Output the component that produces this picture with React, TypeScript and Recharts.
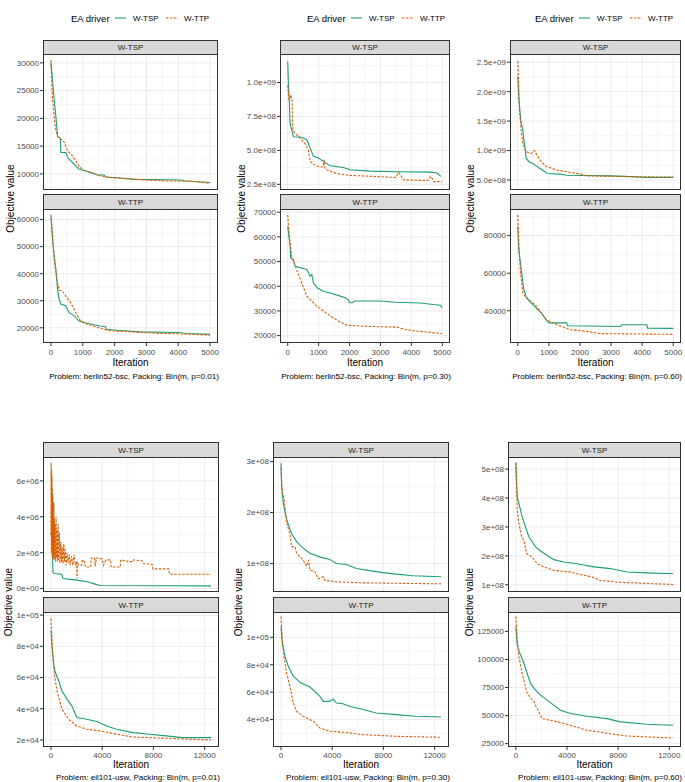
import React from 'react';
import { LineChart, Line, XAxis, YAxis, CartesianGrid } from 'recharts';

type Pt = [number, number];

const GREEN = '#1B9E77';
const ORANGE = '#D95F02';
const FONT = '"Liberation Sans", Arial, Helvetica, sans-serif';

// x axis breaks
const shortXTicks = [0, 1000, 2000, 3000, 4000, 5000];
const shortXMinor = [500, 1500, 2500, 3500, 4500];
const longXTicks = [0, 4000, 8000, 12000];
const longXMinor = [2000, 6000, 10000];

const driverNames = ['W-TSP', 'W-TTP'];

// ---- berlin52-bsc, p=0.01 ----
const b01TspTicks = [10000, 15000, 20000, 25000, 30000];
const b01TspLabels = ['10000', '15000', '20000', '25000', '30000'];
const b01TspMinor = [7500, 12500, 17500, 22500, 27500];
const b01TspGreen: Pt[] = [[0, 30000], [104, 23200], [157, 20200], [209, 16700], [292, 16500], [313, 13860], [470, 13860], [522, 12950], [626, 12350], [730, 11740], [887, 10830], [1096, 10530], [1252, 10230], [1461, 9800], [1670, 9800], [1722, 9440], [2087, 9320], [2610, 9020], [4070, 8900], [4230, 8720], [5000, 8450]];
const b01TspOrange: Pt[] = [[0, 30500], [52, 23200], [136, 18400], [209, 16700], [313, 16300], [417, 15700], [522, 14160], [678, 13250], [783, 12350], [887, 11300], [1044, 10650], [1357, 10050], [1566, 9620], [1879, 9320], [2400, 9140], [3027, 8900], [3653, 8720], [4280, 8720], [4697, 8530], [5000, 8300]];

const b01TtpTicks = [20000, 30000, 40000, 50000, 60000];
const b01TtpLabels = ['20000', '30000', '40000', '50000', '60000'];
const b01TtpMinor = [15000, 25000, 35000, 45000, 55000];
const b01TtpGreen: Pt[] = [[0, 61000], [52, 52600], [103, 46500], [155, 41600], [206, 34300], [258, 30600], [309, 28800], [464, 28200], [567, 25700], [722, 24500], [876, 22600], [1031, 22000], [1237, 21400], [1546, 20700], [1700, 20500], [1753, 19500], [2062, 19100], [2783, 18500], [4020, 18300], [4227, 17900], [5000, 17600]];
const b01TtpOrange: Pt[] = [[0, 61800], [52, 53800], [103, 45200], [186, 37900], [258, 33900], [361, 33600], [464, 31800], [619, 29300], [773, 25700], [928, 22600], [1134, 21400], [1443, 20200], [1856, 18900], [2577, 18500], [3299, 18000], [4227, 17700], [5000, 17300]];

// ---- berlin52-bsc, p=0.30 ----
const b30TspTicks = [2.5e8, 5e8, 7.5e8, 1e9];
const b30TspLabels = ['2.5e+08', '5.0e+08', '7.5e+08', '1.0e+09'];
const b30TspMinor = [3.75e8, 6.25e8, 8.75e8, 1.125e9];
const b30TspGreen: Pt[] = [[0, 1.155e9], [22, 9.95e8], [54, 8.5e8], [76, 7.0e8], [130, 6.5e8], [184, 6.0e8], [400, 5.98e8], [616, 5.8e8], [724, 5.17e8], [832, 4.56e8], [994, 4.43e8], [1156, 4.19e8], [1371, 3.87e8], [1803, 3.74e8], [2019, 3.57e8], [2667, 3.47e8], [3531, 3.42e8], [4611, 3.4e8], [4827, 3.33e8], [4957, 3.08e8]];
const b30TspOrange: Pt[] = [[0, 9.8e8], [22, 9.15e8], [54, 8.6e8], [97, 9.1e8], [140, 8.7e8], [162, 6.5e8], [238, 6.25e8], [400, 5.9e8], [562, 5.5e8], [670, 5.0e8], [724, 4.2e8], [832, 3.95e8], [1048, 3.77e8], [1150, 3.8e8], [1177, 4.3e8], [1200, 3.7e8], [1263, 3.57e8], [1587, 3.28e8], [2019, 3.16e8], [2775, 3.08e8], [3500, 3.0e8], [3585, 3.37e8], [3650, 3.2e8], [3747, 2.83e8], [4395, 2.78e8], [4560, 2.8e8], [4611, 3.08e8], [4680, 2.9e8], [4719, 2.7e8], [4989, 2.7e8]];

const b30TtpTicks = [20000, 30000, 40000, 50000, 60000, 70000];
const b30TtpLabels = ['20000', '30000', '40000', '50000', '60000', '70000'];
const b30TtpMinor = [25000, 35000, 45000, 55000, 65000];
const b30TtpGreen: Pt[] = [[0, 64300], [32, 60900], [76, 56200], [97, 51500], [184, 50800], [238, 48100], [616, 46800], [724, 44100], [778, 44700], [832, 41300], [961, 39300], [1156, 38000], [1371, 37300], [1695, 36000], [1857, 35300], [1960, 34500], [2000, 33300], [2100, 33300], [2150, 34000], [3000, 34000], [3500, 33500], [4300, 33200], [4700, 32600], [4950, 32300], [4990, 31300]];
const b30TtpOrange: Pt[] = [[0, 68900], [54, 60100], [130, 52000], [292, 46600], [454, 41300], [616, 36000], [940, 31900], [1371, 28000], [1700, 25500], [1911, 24200], [2451, 23800], [3000, 23600], [3531, 23400], [3800, 22500], [4071, 22000], [4611, 21300], [4989, 20800]];

// ---- berlin52-bsc, p=0.60 ----
const b60TspTicks = [5e8, 1e9, 1.5e9, 2e9, 2.5e9];
const b60TspLabels = ['5.0e+08', '1.0e+09', '1.5e+09', '2.0e+09', '2.5e+09'];
const b60TspMinor = [7.5e8, 1.25e9, 1.75e9, 2.25e9];
const b60TspGreen: Pt[] = [[0, 2.26e9], [33, 1.92e9], [65, 1.69e9], [108, 1.47e9], [163, 1.35e9], [195, 1.18e9], [228, 1.07e9], [271, 8.7e8], [358, 8.1e8], [488, 7.8e8], [597, 7.4e8], [705, 7.0e8], [813, 6.6e8], [944, 6.1e8], [1356, 6.0e8], [1573, 5.8e8], [2983, 5.7e8], [4176, 5.45e8], [5000, 5.45e8]];
const b60TspOrange: Pt[] = [[0, 2.52e9], [33, 2.03e9], [54, 1.69e9], [108, 1.35e9], [163, 1.12e9], [271, 9.8e8], [434, 9.5e8], [542, 1.0e9], [618, 9.2e8], [759, 8.1e8], [922, 7.3e8], [1247, 6.7e8], [1573, 6.4e8], [2007, 6.0e8], [2223, 5.7e8], [3525, 5.6e8], [4610, 5.5e8], [5000, 5.5e8]];

const b60TtpTicks = [40000, 60000, 80000];
const b60TtpLabels = ['40000', '60000', '80000'];
const b60TtpMinor = [30000, 50000, 70000, 90000];
const b60TtpGreen: Pt[] = [[0, 84800], [33, 72400], [87, 65300], [141, 58200], [195, 51200], [271, 47600], [380, 45000], [542, 42300], [651, 40500], [759, 38800], [922, 35000], [1000, 33500], [1573, 33500], [1600, 32000], [3300, 31600], [3350, 32500], [4150, 32500], [4180, 30700], [5000, 30600]];
const b60TtpOrange: Pt[] = [[0, 91000], [33, 75900], [87, 60000], [163, 49400], [271, 46700], [434, 45000], [597, 42300], [759, 38800], [922, 35200], [1247, 32600], [1681, 29900], [2223, 29000], [2657, 27800], [5000, 27400]];

// ---- eil101-usw, p=0.01 ----
const e01TspTicks = [0, 2e6, 4e6, 6e6];
const e01TspLabels = ['0e+00', '2e+06', '4e+06', '6e+06'];
const e01TspMinor = [1e6, 3e6, 5e6, 7e6];
const e01TspGreen: Pt[] = [[0, 3.1e6], [78, 2.7e6], [155, 0.93e6], [207, 0.84e6], [853, 0.8e6], [931, 0.56e6], [2017, 0.47e6], [2922, 0.37e6], [3569, 0.22e6], [3827, 0.17e6], [12500, 0.15e6]];
const e01TspOrange: Pt[] = [[0, 3.0e6], [15, 7.0e6], [30, 2.0e6], [45, 6.6e6], [60, 2.5e6], [75, 6.3e6], [90, 1.8e6], [105, 5.6e6], [120, 2.2e6], [140, 5.2e6], [160, 1.6e6], [180, 4.3e6], [200, 2.0e6], [225, 4.8e6], [250, 1.7e6], [275, 3.9e6], [300, 1.6e6], [330, 3.6e6], [360, 1.5e6], [400, 4.0e6], [440, 1.7e6], [480, 3.3e6], [520, 1.5e6], [560, 3.6e6], [600, 1.6e6], [650, 3.1e6], [700, 1.4e6], [760, 2.6e6], [820, 1.5e6], [880, 2.3e6], [940, 1.4e6], [1000, 2.5e6], [1060, 1.5e6], [1120, 2.2e6], [1180, 1.3e6], [1250, 2.0e6], [1330, 1.4e6], [1420, 1.9e6], [1500, 1.3e6], [1600, 1.8e6], [1700, 1.3e6], [1800, 1.9e6], [1900, 1.3e6], [2000, 1.5e6], [2040, 0.55e6], [2060, 1.5e6], [2150, 1.3e6], [2400, 1.3e6], [2450, 1.6e6], [2600, 1.5e6], [2700, 1.2e6], [3100, 1.2e6], [3150, 1.7e6], [3400, 1.7e6], [3450, 1.25e6], [3550, 1.7e6], [4000, 1.65e6], [4100, 1.3e6], [4300, 1.6e6], [4650, 1.6e6], [4700, 1.2e6], [5400, 1.2e6], [5450, 1.6e6], [5900, 1.55e6], [6000, 1.5e6], [6400, 1.5e6], [6450, 1.6e6], [7100, 1.55e6], [7200, 1.4e6], [7900, 1.35e6], [7950, 1.1e6], [9200, 1.1e6], [9260, 0.8e6], [12500, 0.8e6]];

const e01TtpTicks = [20000, 40000, 60000, 80000, 100000];
const e01TtpLabels = ['2e+04', '4e+04', '6e+04', '8e+04', '1e+05'];
const e01TtpMinor = [30000, 50000, 70000, 90000];
const e01TtpGreen: Pt[] = [[0, 90300], [78, 79600], [207, 68800], [336, 63400], [595, 58100], [853, 51600], [1241, 46200], [1629, 41900], [2017, 34400], [2793, 33300], [3569, 31800], [4344, 29000], [5120, 26900], [6413, 24700], [7706, 23700], [9000, 22600], [10290, 21500], [12500, 21500]];
const e01TtpOrange: Pt[] = [[0, 97800], [103, 79600], [259, 62400], [465, 51600], [853, 39800], [1371, 33300], [2017, 29000], [2793, 26900], [3827, 25800], [5120, 23700], [6413, 21900], [9000, 21100], [12500, 20000]];

// ---- eil101-usw, p=0.30 ----
const e30TspTicks = [1e8, 2e8, 3e8];
const e30TspLabels = ['1e+08', '2e+08', '3e+08'];
const e30TspMinor = [5e7, 1.5e8, 2.5e8];
const e30TspGreen: Pt[] = [[0, 2.97e8], [52, 2.51e8], [181, 2.18e8], [441, 1.86e8], [829, 1.59e8], [1218, 1.43e8], [1737, 1.30e8], [2255, 1.20e8], [3033, 1.13e8], [3810, 1.08e8], [4329, 1.0e8], [5106, 0.98e8], [5884, 0.9e8], [6921, 0.86e8], [7958, 0.82e8], [8994, 0.79e8], [10290, 0.76e8], [12500, 0.74e8]];
const e30TspOrange: Pt[] = [[0, 2.88e8], [104, 2.38e8], [181, 2.35e8], [259, 2.25e8], [389, 1.92e8], [518, 1.72e8], [700, 1.59e8], [829, 1.33e8], [1089, 1.33e8], [1218, 1.2e8], [1737, 1.07e8], [1996, 0.95e8], [2151, 1.07e8], [2255, 0.87e8], [2644, 0.84e8], [2903, 0.7e8], [3292, 0.74e8], [3421, 0.67e8], [4329, 0.64e8], [6402, 0.62e8], [12500, 0.6e8]];

const e30TtpTicks = [40000, 60000, 80000, 100000];
const e30TtpLabels = ['4e+04', '6e+04', '8e+04', '1e+05'];
const e30TtpMinor = [30000, 50000, 70000, 90000, 110000];
const e30TtpGreen: Pt[] = [[0, 108000], [104, 95900], [311, 86100], [570, 78900], [959, 71600], [1477, 67200], [2255, 63800], [2644, 60600], [3033, 57000], [3292, 53300], [3810, 53300], [4070, 55000], [4329, 52100], [4847, 51600], [5365, 49700], [6402, 47300], [7439, 44800], [8994, 43600], [10550, 42400], [12500, 41900]];
const e30TtpOrange: Pt[] = [[0, 115300], [104, 98300], [233, 86100], [441, 74000], [700, 64300], [959, 52100], [1218, 46000], [1737, 42400], [2514, 38800], [3033, 33900], [3810, 31500], [5365, 30300], [6402, 29000], [8994, 27800], [12500, 27100]];

// ---- eil101-usw, p=0.60 ----
const e60TspTicks = [1e8, 2e8, 3e8, 4e8, 5e8];
const e60TspLabels = ['1e+08', '2e+08', '3e+08', '4e+08', '5e+08'];
const e60TspMinor = [1.5e8, 2.5e8, 3.5e8, 4.5e8];
const e60TspGreen: Pt[] = [[0, 5.21e8], [104, 4.05e8], [234, 3.82e8], [495, 3.35e8], [755, 3.0e8], [1015, 2.66e8], [1275, 2.49e8], [1536, 2.31e8], [1926, 2.17e8], [2447, 2.02e8], [2967, 1.87e8], [3748, 1.79e8], [4789, 1.73e8], [6091, 1.62e8], [7392, 1.56e8], [8693, 1.44e8], [10250, 1.41e8], [12300, 1.38e8]];
const e60TspOrange: Pt[] = [[0, 5.23e8], [104, 3.59e8], [234, 3.12e8], [442, 2.66e8], [625, 2.54e8], [833, 2.08e8], [1275, 1.96e8], [1666, 1.73e8], [2186, 1.62e8], [2967, 1.5e8], [4269, 1.44e8], [4789, 1.38e8], [5310, 1.33e8], [5960, 1.27e8], [6611, 1.15e8], [7913, 1.09e8], [12300, 1.01e8]];

const e60TtpTicks = [25000, 50000, 75000, 100000, 125000];
const e60TtpLabels = ['25000', '50000', '75000', '100000', '125000'];
const e60TtpMinor = [37500, 62500, 87500, 112500, 137500];
const e60TtpGreen: Pt[] = [[0, 129500], [104, 113100], [312, 105600], [625, 96600], [885, 87700], [1145, 78700], [1536, 72700], [1926, 68200], [2447, 63800], [2967, 59300], [3488, 54800], [4269, 51800], [5570, 49400], [7132, 47300], [8173, 44400], [10250, 42300], [12300, 41400]];
const e60TtpOrange: Pt[] = [[0, 138400], [104, 117500], [234, 102600], [495, 87700], [885, 69700], [1406, 62300], [2056, 47300], [2967, 45200], [4269, 41400], [5570, 36900], [7392, 33900], [8693, 31800], [12300, 30000]];

interface FacetDef {
  domain: [number, number];
  ticks: number[];
  labels: string[];
  minor: number[];
  tsp: Pt[];
  ttp: Pt[];
}

interface PanelDef {
  row: 0 | 1;
  left: number;
  width: number;
  yTitleX: number;
  legendX?: number;
  xDomain: [number, number];
  caption: string;
  facets: FacetDef[];
}

const ROWS = [
  { strips: [40, 194], plots: [[54, 190], [209, 343]], tickMargin: 3, titleY: 362, captionY: 376, xTicks: shortXTicks, xMinor: shortXMinor },
  { strips: [442, 597], plots: [[457, 592], [612, 747]], tickMargin: 2, titleY: 764, captionY: 777, xTicks: longXTicks, xMinor: longXMinor },
];

const panels: PanelDef[] = [
  {
    row: 0, left: 43, width: 175, yTitleX: 10, legendX: 71, xDomain: [-250, 5250],
    caption: 'Problem: berlin52-bsc, Packing: Bin(m, p=0.01)',
    facets: [
      { domain: [7100, 31600], ticks: b01TspTicks, labels: b01TspLabels, minor: b01TspMinor, tsp: b01TspGreen, ttp: b01TspOrange },
      { domain: [14400, 63900], ticks: b01TtpTicks, labels: b01TtpLabels, minor: b01TtpMinor, tsp: b01TtpGreen, ttp: b01TtpOrange },
    ],
  },
  {
    row: 0, left: 280, width: 170, yTitleX: 241, legendX: 307, xDomain: [-250, 5250],
    caption: 'Problem: berlin52-bsc, Packing: Bin(m, p=0.30)',
    facets: [
      { domain: [2.08e8, 1.21e9], ticks: b30TspTicks, labels: b30TspLabels, minor: b30TspMinor, tsp: b30TspGreen, ttp: b30TspOrange },
      { domain: [17000, 71300], ticks: b30TtpTicks, labels: b30TtpLabels, minor: b30TtpMinor, tsp: b30TtpGreen, ttp: b30TtpOrange },
    ],
  },
  {
    row: 0, left: 510, width: 171, yTitleX: 470, legendX: 535, xDomain: [-250, 5250],
    caption: 'Problem: berlin52-bsc, Packing: Bin(m, p=0.60)',
    facets: [
      { domain: [3.3e8, 2.64e9], ticks: b60TspTicks, labels: b60TspLabels, minor: b60TspMinor, tsp: b60TspGreen, ttp: b60TspOrange },
      { domain: [22800, 94200], ticks: b60TtpTicks, labels: b60TtpLabels, minor: b60TtpMinor, tsp: b60TtpGreen, ttp: b60TtpOrange },
    ],
  },
  {
    row: 1, left: 43, width: 176, yTitleX: 8, xDomain: [-625, 13125],
    caption: 'Problem: eil101-usw, Packing: Bin(m, p=0.01)',
    facets: [
      { domain: [-1.9e5, 7.33e6], ticks: e01TspTicks, labels: e01TspLabels, minor: e01TspMinor, tsp: e01TspGreen, ttp: e01TspOrange },
      { domain: [15500, 102000], ticks: e01TtpTicks, labels: e01TtpLabels, minor: e01TtpMinor, tsp: e01TtpGreen, ttp: e01TtpOrange },
    ],
  },
  {
    row: 1, left: 273, width: 176, yTitleX: 238, xDomain: [-625, 13125],
    caption: 'Problem: eil101-usw, Packing: Bin(m, p=0.30)',
    facets: [
      { domain: [4.4e7, 3.09e8], ticks: e30TspTicks, labels: e30TspLabels, minor: e30TspMinor, tsp: e30TspGreen, ttp: e30TspOrange },
      { domain: [20000, 118500], ticks: e30TtpTicks, labels: e30TtpLabels, minor: e30TtpMinor, tsp: e30TtpGreen, ttp: e30TtpOrange },
    ],
  },
  {
    row: 1, left: 508, width: 173, yTitleX: 469, xDomain: [-615, 12915],
    caption: 'Problem: eil101-usw, Packing: Bin(m, p=0.60)',
    facets: [
      { domain: [7.5e7, 5.42e8], ticks: e60TspTicks, labels: e60TspLabels, minor: e60TspMinor, tsp: e60TspGreen, ttp: e60TspOrange },
      { domain: [22000, 142300], ticks: e60TtpTicks, labels: e60TtpLabels, minor: e60TtpMinor, tsp: e60TtpGreen, ttp: e60TtpOrange },
    ],
  },
];

const Y_AXIS_W = 44;
const X_AXIS_H = 16;
const RIGHT_PAD = 14;
const tickStyle = { fill: '#4D4D4D', fontSize: 8, fontFamily: FONT };

const toRows = (pts: Pt[]) => pts.map(([x, y]) => ({ x, y }));

function Facet({ panel, facet, index }: { panel: PanelDef; facet: FacetDef; index: number }) {
  const row = ROWS[panel.row];
  const [top, bottom] = row.plots[index];
  const height = bottom - top;
  const showX = index === 1;
  return (
    <div style={{ position: 'absolute', left: panel.left - Y_AXIS_W, top }}>
      <LineChart
        width={panel.width + Y_AXIS_W + RIGHT_PAD}
        height={height + (showX ? X_AXIS_H : 0)}
        margin={{ top: 0, right: RIGHT_PAD, bottom: 0, left: 0 }}
      >
        <CartesianGrid stroke="#EBEBEB" strokeWidth={0.5} horizontalValues={facet.minor} verticalValues={row.xMinor} />
        <CartesianGrid stroke="#EBEBEB" strokeWidth={1} horizontalValues={facet.ticks} verticalValues={row.xTicks} />
        <XAxis
          type="number"
          dataKey="x"
          domain={panel.xDomain}
          allowDataOverflow
          ticks={row.xTicks}
          interval={0}
          hide={!showX}
          height={X_AXIS_H}
          axisLine={false}
          tickLine={{ stroke: '#333333' }}
          tickSize={3}
          tickMargin={row.tickMargin}
          tick={tickStyle}
        />
        <YAxis
          type="number"
          domain={facet.domain}
          allowDataOverflow
          ticks={facet.ticks}
          interval={0}
          width={Y_AXIS_W}
          axisLine={false}
          tickLine={{ stroke: '#333333' }}
          tickSize={3}
          tickMargin={1}
          tick={tickStyle}
          tickFormatter={(v: number) => facet.labels[facet.ticks.indexOf(v)] ?? String(v)}
        />
        <Line data={toRows(facet.tsp)} dataKey="y" name="W-TSP" stroke={GREEN} strokeWidth={1.1} dot={false} isAnimationActive={false} />
        <Line data={toRows(facet.ttp)} dataKey="y" name="W-TTP" stroke={ORANGE} strokeWidth={1.1} strokeDasharray="2.5 1.5" dot={false} isAnimationActive={false} />
      </LineChart>
    </div>
  );
}

function Decorations() {
  return (
    <svg width={685} height={782} style={{ position: 'absolute', left: 0, top: 0, pointerEvents: 'none' }} fontFamily={FONT}>
      {panels.map((p, pi) => {
        const row = ROWS[p.row];
        const mid = p.left + p.width / 2;
        const yMid = (row.plots[0][0] + row.plots[1][1]) / 2;
        return (
          <g key={pi}>
            {row.plots.map(([t, b], fi) => (
              <g key={fi}>
                <rect x={p.left + 0.5} y={row.strips[fi] + 0.5} width={p.width - 1} height={t - row.strips[fi]} fill="#D9D9D9" stroke="#333333" strokeWidth={1} />
                <text x={mid} y={(row.strips[fi] + t) / 2 + 0.5} fontSize={8} fill="#1A1A1A" textAnchor="middle" dominantBaseline="central">
                  {driverNames[fi]}
                </text>
                <rect x={p.left + 0.5} y={t + 0.5} width={p.width - 1} height={b - t - 1} fill="none" stroke="#333333" strokeWidth={1} />
              </g>
            ))}
            <text x={p.yTitleX} y={yMid} fontSize={10} fill="#000" textAnchor="middle" dominantBaseline="central" transform={`rotate(-90 ${p.yTitleX} ${yMid})`}>
              Objective value
            </text>
            <text x={mid} y={row.titleY} fontSize={10} fill="#000" textAnchor="middle" dominantBaseline="central">
              Iteration
            </text>
            <text x={p.left + p.width + 1} y={row.captionY} fontSize={8.1} fill="#000" textAnchor="end" dominantBaseline="central">
              {p.caption}
            </text>
            {p.legendX !== undefined && (
              <g>
                <text x={p.legendX} y={18} fontSize={9.5} fill="#000" dominantBaseline="central">EA driver</text>
                <line x1={p.legendX + 44} x2={p.legendX + 55} y1={18} y2={18} stroke={GREEN} strokeWidth={1.1} />
                <text x={p.legendX + 62} y={18} fontSize={8} fill="#000" dominantBaseline="central">{driverNames[0]}</text>
                <line x1={p.legendX + 95} x2={p.legendX + 106} y1={18} y2={18} stroke={ORANGE} strokeWidth={1.1} strokeDasharray="2.5 1.5" />
                <text x={p.legendX + 113} y={18} fontSize={8} fill="#000" dominantBaseline="central">{driverNames[1]}</text>
              </g>
            )}
          </g>
        );
      })}
    </svg>
  );
}

export default function App() {
  return (
    <div style={{ position: 'absolute', left: 0, top: 0, width: 685, height: 782, background: '#fff', overflow: 'hidden' }}>
      {panels.map((p, pi) =>
        p.facets.map((f, fi) => <Facet key={`${pi}-${fi}`} panel={p} facet={f} index={fi} />)
      )}
      <Decorations />
    </div>
  );
}
